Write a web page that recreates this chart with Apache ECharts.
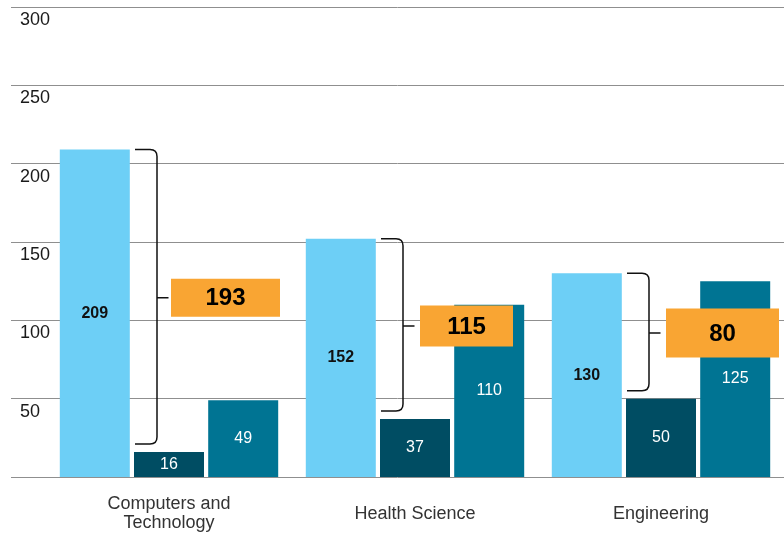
<!DOCTYPE html>
<html>
<head>
<meta charset="utf-8">
<title>Programs by field</title>
<script src="https://cdn.jsdelivr.net/npm/echarts@6/dist/echarts.min.js"></script>
<style>
  html, body { margin: 0; padding: 0; background: #ffffff; }
  #chart { width: 784px; height: 533px; }
</style>
</head>
<body>
<div id="chart"></div>
<script>
// ---- data ----
const categories = ['Computers and\nTechnology', 'Health Science', 'Engineering'];
const firstSeries = [209, 152, 130];
const secondSeries = [16, 37, 50];
const thirdSeries = [49, 110, 125];
const differences = [193, 115, 80];
const yTickValues = [0, 50, 100, 150, 200, 250, 300];

// ---- styling ----
const FONT = '"Liberation Sans", Arial, Helvetica, sans-serif';
const COLORS = ['#6dcff6', '#004d63', '#007493'];
const CALLOUT_FILL = '#f9a533';
const BAR_W = 70;
// callout box geometry per category: gap from bracket, width, height
const calloutBox = [
  { gap: 14, w: 109, h: 38 },
  { gap: 17, w: 93, h: 41 },
  { gap: 17, w: 113, h: 49 }
];

const yMin = yTickValues[0];
const yMax = yTickValues[yTickValues.length - 1];
const yStep = yTickValues[1] - yTickValues[0];

const chart = echarts.init(document.getElementById('chart'), null, { renderer: 'canvas' });

const bracketData = categories.map((c, i) => [i, firstSeries[i], secondSeries[i], differences[i]]);

function renderBracket(params, api) {
  const idx = api.value(0);
  const hi = api.value(1);
  const lo = api.value(2);
  const diff = api.value(3);
  const cx = api.coord([idx, 0])[0];
  const yTop = api.coord([idx, hi])[1];
  const yBot = api.coord([idx, lo])[1] - 8;
  const x0 = cx - BAR_W / 2 + 1;
  const xv = cx - BAR_W / 2 + 23;
  const r = 7;
  const yMid = (yTop + yBot) / 2 + 1;
  const box = calloutBox[idx];
  const bx = xv + box.gap;
  const path =
    'M' + x0 + ',' + yTop +
    'L' + (xv - r) + ',' + yTop +
    'Q' + xv + ',' + yTop + ' ' + xv + ',' + (yTop + r) +
    'L' + xv + ',' + (yBot - r) +
    'Q' + xv + ',' + yBot + ' ' + (xv - r) + ',' + yBot +
    'L' + x0 + ',' + yBot +
    'M' + xv + ',' + yMid +
    'L' + (xv + 11.5) + ',' + yMid;
  return {
    type: 'group',
    children: [
      {
        type: 'path',
        shape: { pathData: path },
        style: { fill: null, stroke: '#111111', lineWidth: 1.5 }
      },
      {
        type: 'rect',
        shape: { x: bx, y: yMid - box.h / 2, width: box.w, height: box.h },
        style: { fill: CALLOUT_FILL }
      },
      {
        type: 'text',
        style: {
          text: String(diff),
          x: bx + box.w / 2,
          y: yMid + 1,
          align: 'center',
          verticalAlign: 'middle',
          fill: '#000000',
          font: '900 24px ' + FONT
        }
      }
    ]
  };
}

function barSeries(name, values, color, textColor, weight) {
  return {
    name: name,
    type: 'bar',
    xAxisIndex: 1,
    yAxisIndex: 1,
    data: values,
    barWidth: BAR_W,
    barGap: '6%',
    itemStyle: { color: color },
    label: {
      show: true,
      position: 'inside',
      color: textColor,
      fontFamily: FONT,
      fontSize: 16,
      fontWeight: weight
    },
    z: 3
  };
}

const option = {
  animation: false,
  backgroundColor: '#ffffff',
  grid: [
    // grid carrying the value axis, its labels and the horizontal rules
    { left: 11, right: 0, top: 7, bottom: 56 },
    // grid carrying the grouped bars
    { left: 46, width: 742, top: 7, bottom: 56 }
  ],
  xAxis: [
    { type: 'value', gridIndex: 0, show: false, min: 0, max: 1 },
    {
      type: 'category',
      gridIndex: 1,
      data: categories,
      axisLine: { show: false },
      axisTick: { show: false },
      axisLabel: {
        color: '#333333',
        fontFamily: FONT,
        fontSize: 18,
        lineHeight: 19,
        margin: 37,
        verticalAlign: 'middle',
        interval: 0
      }
    }
  ],
  yAxis: [
    {
      type: 'value',
      gridIndex: 0,
      min: yMin,
      max: yMax,
      interval: yStep,
      axisLine: { show: false },
      axisTick: { show: false },
      splitLine: { show: true, lineStyle: { color: '#8f8f8f', width: 1 } },
      axisLabel: {
        showMinLabel: false,
        color: '#1a1a1a',
        fontFamily: FONT,
        fontSize: 18,
        align: 'left',
        verticalAlign: 'top',
        margin: -9,
        padding: [4, 0, 0, 0]
      }
    },
    { type: 'value', gridIndex: 1, min: yMin, max: yMax, interval: yStep, show: false }
  ],
  series: [
    barSeries('Series 1', firstSeries, COLORS[0], '#111111', 600),
    barSeries('Series 2', secondSeries, COLORS[1], '#ffffff', 500),
    barSeries('Series 3', thirdSeries, COLORS[2], '#ffffff', 500),
    {
      name: 'Difference',
      type: 'custom',
      xAxisIndex: 1,
      yAxisIndex: 1,
      data: bracketData,
      renderItem: renderBracket,
      clip: false,
      z: 5,
      silent: true
    }
  ]
};

chart.setOption(option);
</script>
</body>
</html>
